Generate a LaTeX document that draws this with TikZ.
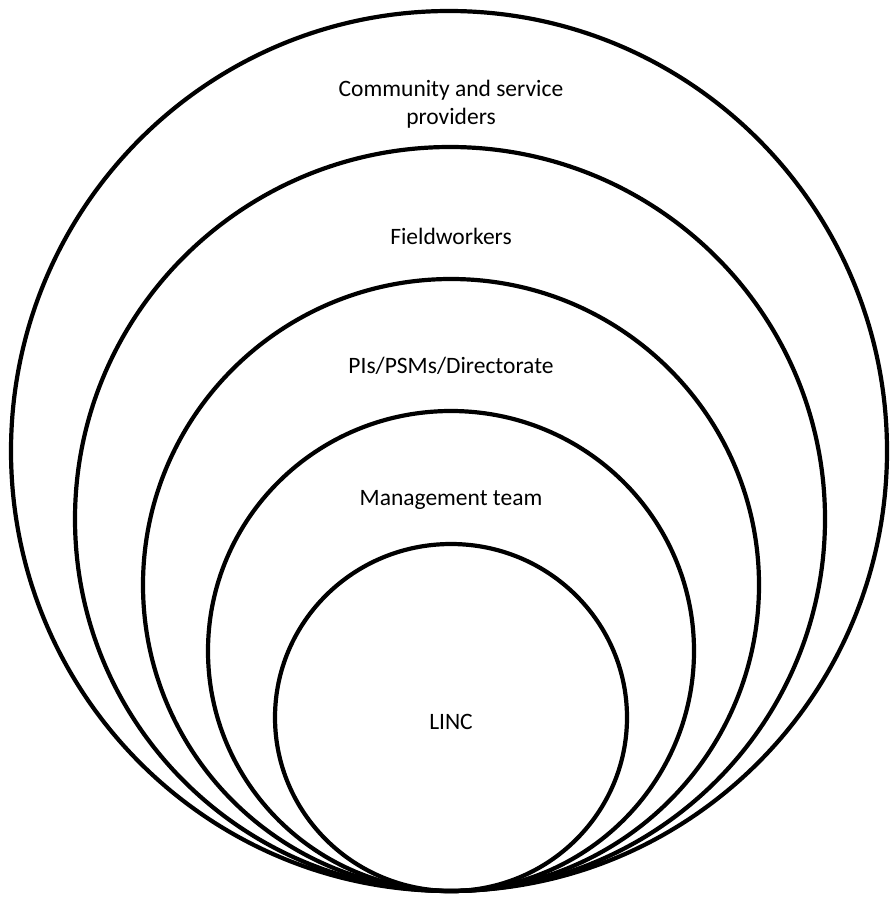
\documentclass[tikz,border=0pt]{standalone}
\usepackage{fontspec}
\setmainfont{Carlito}
\begin{document}
\begin{tikzpicture}[x=1pt,y=-1pt,
  ring/.style={line width=4.2pt,draw=black},
  lbl/.style={font=\fontsize{23.5}{28.5}\selectfont,align=center,inner sep=0pt}]
\useasboundingbox (0,0) rectangle (890,899);
\draw[ring] (449,451) ellipse [x radius=438, y radius=440];
\draw[ring] (450,519) ellipse [x radius=375, y radius=372];
\draw[ring] (451,585) ellipse [x radius=308, y radius=306];
\draw[ring] (451,651) ellipse [x radius=243, y radius=240];
\draw[ring] (451,717.5) ellipse [x radius=176, y radius=173.5];
\node[lbl] (comm) at (451,104) {Community and service\\providers};
\node[lbl] (field) at (451,236) {Fieldworkers};
\node[lbl] (pis) at (451,366) {PIs/PSMs/Directorate};
\node[lbl] (mgmt) at (451,500) {Management team};
\node[lbl] (linc) at (451,722) {LINC};
\end{tikzpicture}
\end{document}
